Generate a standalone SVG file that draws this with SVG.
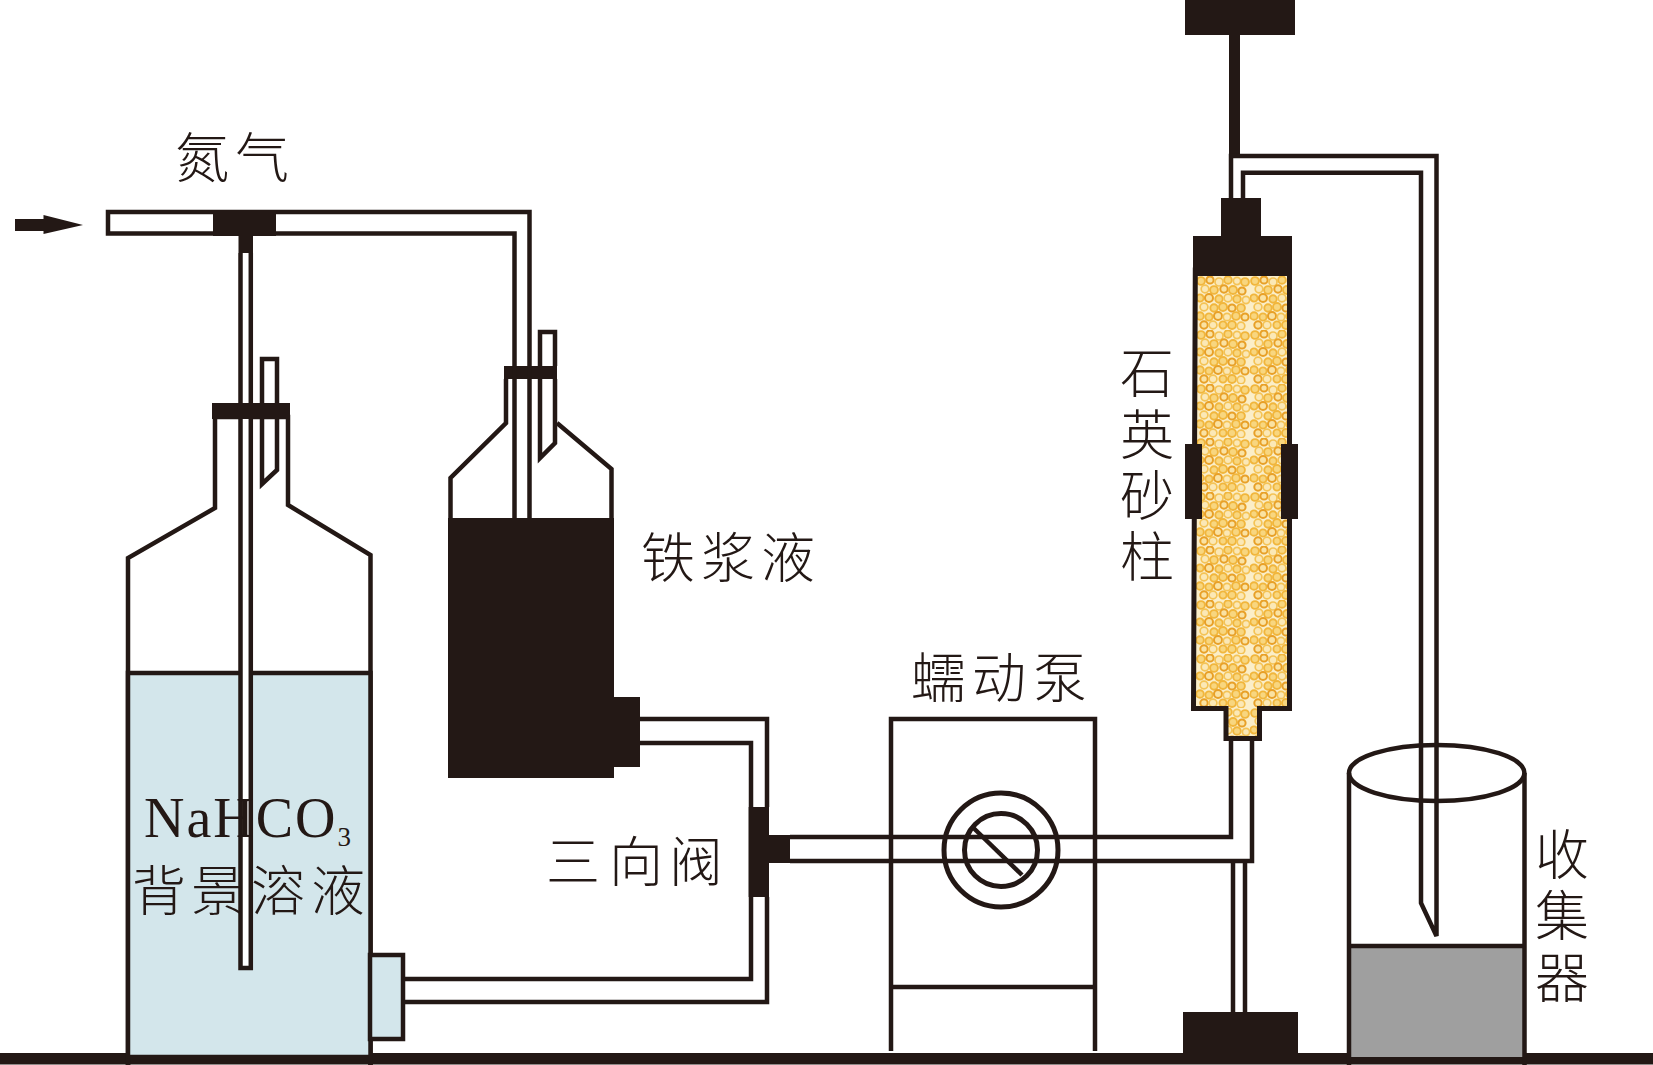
<svg xmlns="http://www.w3.org/2000/svg" width="1653" height="1065" viewBox="0 0 1653 1065">
<style>
.k{fill:#231815;stroke:none}
.l{fill:none;stroke:#231815;stroke-width:4.5;stroke-linejoin:miter}
.t{fill:#fff;stroke:#231815;stroke-width:4.5}
.w{fill:#d3e6eb;stroke:#231815;stroke-width:4.5}
.c{font-family:"Noto Sans CJK SC","Noto Sans CJK JP",sans-serif;font-weight:300;font-size:54px;fill:#231815}
.s{font-family:"Liberation Serif",serif;font-size:56px;fill:#231815}
.r1{fill:#f8d67f;stroke:#f1b63c;stroke-width:1.9}
.r2{fill:#fae2a2;stroke:#e8a027;stroke-width:2}
.r3{fill:#fbe8b6;stroke:#f4c355;stroke-width:1.7}
</style>
<defs>
<pattern id="sand" patternUnits="userSpaceOnUse" x="1196" y="276" width="54" height="54">
<rect width="54" height="54" fill="#fbeec8"/>
<g>
<circle class="r1" cx="5" cy="5" r="3.9"/><circle class="r2" cx="14" cy="4" r="3.6"/><circle class="r3" cx="23" cy="6" r="4"/><circle class="r1" cx="32" cy="4" r="3.8"/><circle class="r3" cx="41" cy="5" r="3.6"/><circle class="r1" cx="49" cy="6" r="3.9"/>
<circle class="r3" cx="9" cy="13" r="3.8"/><circle class="r1" cx="18" cy="14" r="3.9"/><circle class="r2" cx="28" cy="13" r="3.7"/><circle class="r1" cx="37" cy="14" r="4"/><circle class="r2" cx="46" cy="15" r="3.6"/>
<circle class="r1" cx="4" cy="22" r="3.6"/><circle class="r2" cx="13" cy="22" r="4"/><circle class="r1" cx="23" cy="23" r="3.7"/><circle class="r3" cx="32" cy="22" r="3.9"/><circle class="r1" cx="41" cy="23" r="3.8"/><circle class="r3" cx="50" cy="24" r="3.6"/>
<circle class="r3" cx="8" cy="31" r="3.9"/><circle class="r1" cx="18" cy="32" r="3.7"/><circle class="r1" cx="27" cy="31" r="4"/><circle class="r2" cx="36" cy="32" r="3.6"/><circle class="r1" cx="45" cy="32" r="3.9"/>
<circle class="r1" cx="4" cy="40" r="3.8"/><circle class="r1" cx="13" cy="41" r="3.6"/><circle class="r2" cx="22" cy="40" r="4"/><circle class="r3" cx="31" cy="41" r="3.7"/><circle class="r1" cx="40" cy="40" r="3.9"/><circle class="r2" cx="49" cy="41" r="3.6"/>
<circle class="r2" cx="8" cy="49" r="3.7"/><circle class="r3" cx="17" cy="49" r="3.9"/><circle class="r1" cx="27" cy="49" r="3.6"/><circle class="r1" cx="36" cy="49" r="4"/><circle class="r3" cx="45" cy="50" r="3.8"/>
</g>
</pattern>
</defs>
<rect width="1653" height="1065" fill="#fff"/>

<g id="ground"><rect class="k" x="0" y="1053" width="1653" height="11.5"/></g>

<g id="nahco3-bottle">
<path d="M128 1065V558L215 508V417H288V505L370.500 555V1065" class="l"/>
<rect x="128" y="673" width="242.500" height="384" class="w"/>
<rect x="370" y="955" width="33" height="84" class="w"/>
<path class="l" d="M128 1057V1065M370.500 1057V1065"/>
<path class="l" d="M262 403V359H277V403M262 419V484L277 470V419"/>
</g>

<g id="iron-bottle">
<path class="l" d="M506 379V423L450.500 478V518M557 423L611.500 469V518"/>
<path class="k" d="M448 518H614V697H640V767H614V778H448Z"/>
<path class="l" d="M540 366V332H555V366M540 379V458L555 443V379"/>
<rect class="k" x="504" y="366" width="53" height="13"/>
</g>

<g id="pump">
<path class="l" d="M891 1051V719H1095V1051M891 987H1095"/>
<circle class="l" style="stroke-width:5" cx="1001" cy="850" r="57"/>
<circle class="l" style="stroke-width:5" cx="1001" cy="850" r="36.500"/>
<path class="l" d="M973.500 828L1022 875"/>
</g>

<g id="column">
<rect class="k" x="1185" y="0" width="110" height="35"/>
<rect class="k" x="1229" y="35" width="11" height="120"/>
<path d="M1195.300 270L1193.500 708.500H1226V738.500H1259.500V708.500H1289.500V270Z" fill="url(#sand)" stroke="#231815" stroke-width="5"/>
<path class="k" d="M1221 198H1261V236H1292V276H1193V236H1221Z"/>
<rect class="k" x="1185" y="444" width="17" height="75"/>
<rect class="k" x="1281" y="444" width="17" height="75"/>
</g>

<g id="stand"><rect class="k" x="1183" y="1012" width="115" height="41"/></g>

<g id="collector">
<rect x="1349" y="946" width="175.500" height="111" fill="#9f9f9f"/>
<path class="l" d="M1349 773V1065M1524.500 773V1065M1349 946H1524.500"/>
<ellipse class="l" cx="1436.700" cy="773" rx="87.700" ry="28"/>
</g>

<g id="connectors">
<path class="l" d="M213 233.500H108V212H529.500V518M276 233.500H514.500V518"/>
<rect class="k" x="213" y="210" width="63" height="26"/>
<rect class="k" x="238.500" y="236" width="14.500" height="17"/>
<path class="t" d="M240.500 253V968H250.800V253"/>
<path class="l" d="M405 979H751V897M405 1002H767V897M640 719H767V807M640 743H751V807"/>
<rect class="k" x="748.500" y="807" width="20.500" height="90"/>
<rect class="k" x="769" y="835" width="21" height="28"/>
<path class="l" d="M790 837H1231V741M790 861H1252V741"/>
<path class="l" d="M1233 861V1012M1245 861V1012"/>
<path class="l" d="M1231 198V156H1436.500V936L1421 903V172.700H1243V198"/>
<path class="k" d="M15 219H43.500V215L83 225L43.500 234V231H15Z"/>
</g>

<g id="nahco3-stopper"><rect class="k" x="212" y="403" width="78" height="16"/></g>

<g id="labels">
<text class="c" x="175 235" y="178">氮气</text>
<text class="c" x="641 701 761" y="578">铁浆液</text>
<text class="c" x="911 972 1033" y="698">蠕动泵</text>
<text class="c" x="546 609 669" y="882">三向阀</text>
<text class="c" x="132 191 251 311" y="911">背景溶液</text>
<text class="s" x="144" y="837" letter-spacing="2">NaHCO<tspan font-size="27" dy="9">3</tspan></text>
<text class="c" x="1120 1120 1120 1120" y="393 455 516 577">石英砂柱</text>
<text class="c" x="1535 1535 1535" y="875 936 998">收集器</text>
</g>
</svg>
